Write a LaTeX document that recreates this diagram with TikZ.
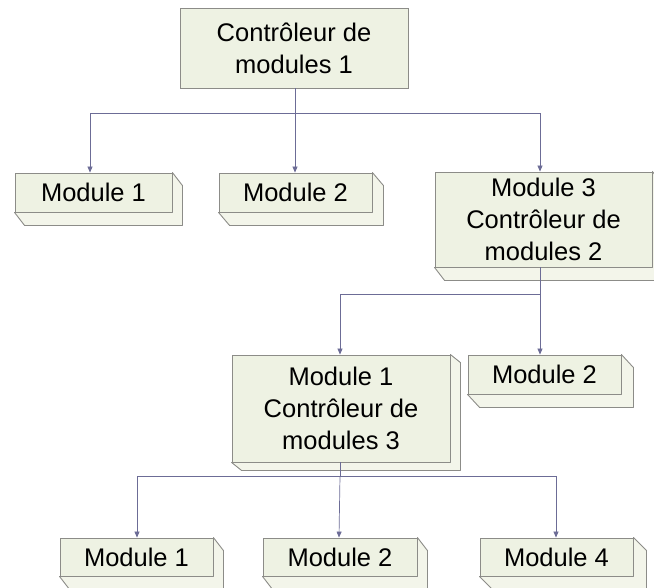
\documentclass[tikz,border=0pt]{standalone}
\usepackage{fontspec}
\setmainfont{Liberation Sans}
\usetikzlibrary{calc,arrows.meta}
\definecolor{boxfill}{HTML}{EEF2E3}
\definecolor{sidefill}{HTML}{F3F5EA}
\definecolor{boxline}{HTML}{8C8C88}
\definecolor{linkcol}{HTML}{6C6C96}
\tikzset{
  modbox/.style={draw=boxline, fill=boxfill, line width=0.9pt, inner sep=0pt,
    align=center, font=\fontsize{25.5}{32}\selectfont, text=black},
  link/.style={draw=linkcol, line width=0.7pt},
  arr/.style={link, -{Triangle[width=5pt,length=6pt]}}
}
% side faces of an extruded box: right and bottom faces, offset (#2,#3)
\newcommand{\extrude}[3]{%
  \filldraw[draw=boxline, fill=sidefill, line width=0.9pt, line join=round]
    (#1.north east) -- ++(#2,#3) -- ($(#1.south east)+(#2,#3)$)
    -- ($(#1.south west)+(#2,#3)$) -- (#1.south west) -- (#1.south east) -- cycle;}
\begin{document}
\begin{tikzpicture}[x=1pt,y=-1pt]
\useasboundingbox (0,0) rectangle (654,587);
\begin{scope}
  \clip (0,0) rectangle (654,587);
  % level 0
  \node[modbox, minimum width=228pt, minimum height=80pt] (c1) at (294,48)
    {Contrôleur de\\modules 1};
  % level 1
  \node[modbox, minimum width=157pt, minimum height=39pt] (m11) at (93.5,192.5) {Module 1};
  \extrude{m11}{10}{13}
  \node[modbox, minimum width=153pt, minimum height=39pt] (m12) at (295.5,192.5) {Module 2};
  \extrude{m12}{11}{13}
  \node[modbox, minimum width=217pt, minimum height=95pt] (c2) at (543.5,219.5)
    {Module 3\\Contrôleur de\\modules 2};
  \extrude{c2}{10}{13}
  % level 2
  \node[modbox, minimum width=218pt, minimum height=107pt] (c3) at (341,408.5)
    {Module 1\\Contrôleur de\\modules 3};
  \extrude{c3}{10}{8}
  \node[modbox, minimum width=153pt, minimum height=39pt] (m22) at (544.5,374.5) {Module 2};
  \extrude{m22}{12}{13}
  % level 3
  \node[modbox, minimum width=153pt, minimum height=38pt] (m31) at (136.5,557) {Module 1};
  \extrude{m31}{10}{13}
  \node[modbox, minimum width=154pt, minimum height=38pt] (m32) at (340,557) {Module 2};
  \extrude{m32}{10}{13}
  \node[modbox, minimum width=153pt, minimum height=38pt] (m34) at (556.5,557) {Module 4};
  \extrude{m34}{13}{13}
\end{scope}
% connectors
\coordinate (j1) at (295,113);
\draw[link] (c1.south -| j1) -- (j1);
\draw[arr] (j1) -| (m11.north -| 90,0);
\draw[arr] (j1) -- (m12.north -| 295,0);
\draw[arr] (j1) -| (c2.north -| 540,0);
\coordinate (j2) at (540,294);
\draw[link] (c2.south -| j2) -- (j2);
\draw[arr] (j2) -| (c3.north -| 340,0);
\draw[arr] (j2) -- (m22.north -| j2);
\coordinate (j3) at (340,476);
\draw[link] (c3.south -| j3) -- (j3);
\draw[arr] (j3) -| (m31.north -| 137,0);
\draw[arr] (j3) -- (m32.north -| 339,0);
\draw[arr] (j3) -| (m34.north -| 556,0);
\end{tikzpicture}
\end{document}
